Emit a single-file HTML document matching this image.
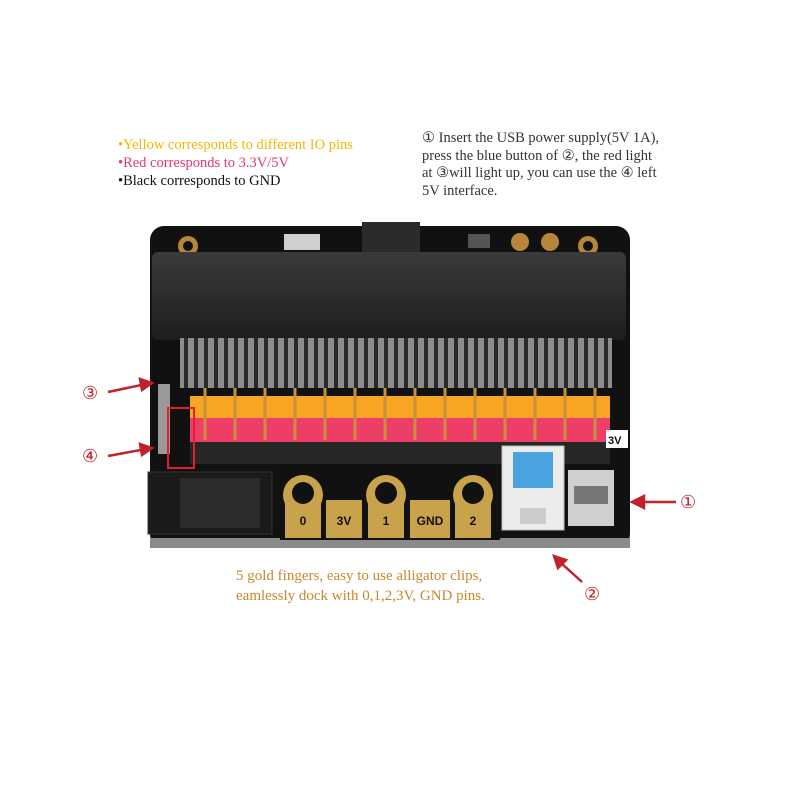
<!DOCTYPE html>
<html><head><meta charset="utf-8"><style>
html,body{margin:0;padding:0;background:#fff;}
body{width:800px;height:800px;position:relative;overflow:hidden;font-family:"Liberation Serif",serif;}
.t{position:absolute;font-size:14.5px;line-height:18px;white-space:nowrap;}
</style></head><body>
<div class="t" style="left:118px;top:136px;">
<div style="color:#f2b705">•Yellow corresponds to different IO pins</div>
<div style="color:#e4386a">•Red corresponds to 3.3V/5V</div>
<div style="color:#111">•Black corresponds to GND</div>
</div>
<div class="t" style="left:422px;top:130px;color:#333;line-height:17.5px;">
<div>① Insert the USB power supply(5V 1A),</div>
<div>press the blue button of ②, the red light</div>
<div>at ③will light up, you can use the ④ left</div>
<div>5V interface.</div>
</div>
<div class="t" style="left:236px;top:566px;color:#c9872e;font-size:15px;line-height:20px;">
<div>5 gold fingers, easy to use alligator clips,</div>
<div>eamlessly dock with 0,1,2,3V, GND pins.</div>
</div>
<svg width="800" height="800" style="position:absolute;left:0;top:0;">
<defs>
<linearGradient id="hs" x1="0" y1="0" x2="0" y2="1"><stop offset="0" stop-color="#3a3a3a"/><stop offset="1" stop-color="#1e1e1e"/></linearGradient>
</defs>
<!-- board -->
<rect x="150" y="226" width="480" height="322" rx="14" fill="#111"/>
<rect x="150" y="538" width="480" height="10" fill="#8a8a8a"/>
<!-- top components -->
<rect x="362" y="222" width="58" height="36" fill="#2b2b2b"/>
<rect x="284" y="234" width="36" height="16" fill="#cfcfcf"/>
<circle cx="188" cy="246" r="10" fill="#b7863a"/><circle cx="188" cy="246" r="5" fill="#111"/>
<circle cx="520" cy="242" r="9" fill="#b7863a"/><circle cx="550" cy="242" r="9" fill="#b7863a"/><circle cx="588" cy="246" r="10" fill="#b7863a"/><circle cx="588" cy="246" r="5" fill="#111"/>
<rect x="468" y="234" width="22" height="14" fill="#555"/>
<!-- connector housing -->
<rect x="152" y="252" width="474" height="88" rx="6" fill="url(#hs)"/>
<!-- pin teeth -->
<g fill="#8d8d8d">
<rect x="180" y="338" width="432" height="50"/>
</g>
<g stroke="#2a2a2a" stroke-width="4">
<path d="M186 338V388M196 338V388M206 338V388M216 338V388M226 338V388M236 338V388M246 338V388M256 338V388M266 338V388M276 338V388M286 338V388M296 338V388M306 338V388M316 338V388M326 338V388M336 338V388M346 338V388M356 338V388M366 338V388M376 338V388M386 338V388M396 338V388M406 338V388M416 338V388M426 338V388M436 338V388M446 338V388M456 338V388M466 338V388M476 338V388M486 338V388M496 338V388M506 338V388M516 338V388M526 338V388M536 338V388M546 338V388M556 338V388M566 338V388M576 338V388M586 338V388M596 338V388M606 338V388"/>
</g>
<!-- header rows -->
<rect x="190" y="396" width="420" height="22" fill="#f6a623"/>
<rect x="190" y="418" width="420" height="24" fill="#ec3e67"/>
<rect x="190" y="442" width="420" height="22" fill="#262626"/>
<g stroke="#c8903a" stroke-width="3">
<path d="M205 388V440M235 388V440M265 388V440M295 388V440M325 388V440M355 388V440M385 388V440M415 388V440M445 388V440M475 388V440M505 388V440M535 388V440M565 388V440M595 388V440"/>
</g>
<rect x="158" y="384" width="12" height="70" fill="#999"/>
<rect x="168" y="408" width="26" height="60" fill="none" stroke="#e0202a" stroke-width="2"/>
<rect x="606" y="430" width="22" height="18" fill="#fff"/><text x="608" y="444" font-family="Liberation Sans" font-size="11" font-weight="bold" fill="#111">3V</text>
<!-- audio jack -->
<rect x="148" y="472" width="124" height="62" fill="#1a1a1a" stroke="#333"/>
<rect x="180" y="478" width="80" height="50" fill="#2c2c2c"/>
<!-- gold fingers -->
<rect x="280" y="474" width="220" height="66" fill="#111"/>
<g fill="#c9a34b">
<rect x="285" y="500" width="36" height="38"/><rect x="326" y="500" width="36" height="38"/><rect x="368" y="500" width="36" height="38"/><rect x="410" y="500" width="40" height="38"/><rect x="455" y="500" width="36" height="38"/>
<circle cx="303" cy="495" r="20"/><circle cx="386" cy="495" r="20"/><circle cx="473" cy="495" r="20"/>
</g>
<g fill="#111"><circle cx="303" cy="493" r="11"/><circle cx="386" cy="493" r="11"/><circle cx="473" cy="493" r="11"/></g>
<g font-family="Liberation Sans" font-weight="bold" font-size="12" fill="#111" text-anchor="middle">
<text x="303" y="525">0</text><text x="344" y="525">3V</text><text x="386" y="525">1</text><text x="430" y="525">GND</text><text x="473" y="525">2</text>
</g>
<!-- button -->
<rect x="502" y="446" width="62" height="84" fill="#ececec" stroke="#bbb"/>
<rect x="513" y="452" width="40" height="36" fill="#4aa3df"/>
<rect x="520" y="508" width="26" height="16" fill="#ccc"/>
<!-- usb -->
<rect x="568" y="470" width="46" height="56" fill="#cfcfcf"/>
<rect x="574" y="486" width="34" height="18" fill="#777"/>
<!-- arrows -->
<g stroke="#c0212a" stroke-width="2.5" fill="#c0212a">
<line x1="108" y1="392" x2="146" y2="384"/><polygon points="152,383 140,379 142,390"/>
<line x1="108" y1="456" x2="146" y2="449"/><polygon points="152,448 140,444 142,455"/>
<line x1="676" y1="502" x2="640" y2="502"/><polygon points="632,502 644,496 644,508"/>
<line x1="582" y1="582" x2="560" y2="562"/><polygon points="554,556 566,560 558,568"/>
</g>
<g font-family="Liberation Serif,DejaVu Sans" font-size="18" fill="#c0212a">
<text x="82" y="399">③</text><text x="82" y="462">④</text><text x="680" y="508">①</text><text x="584" y="600">②</text>
</g>
</svg>
</body></html>
